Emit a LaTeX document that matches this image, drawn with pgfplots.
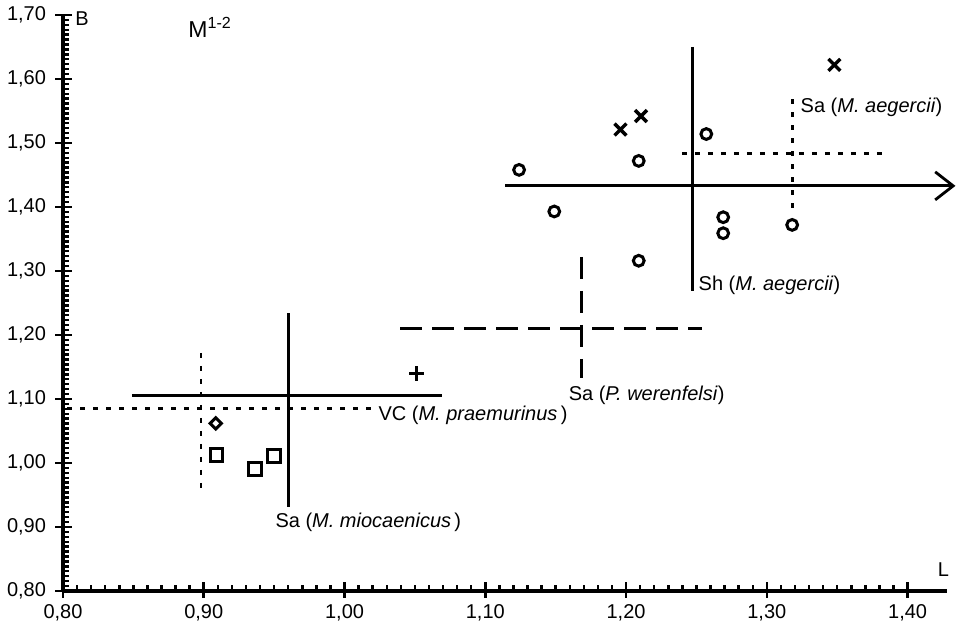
\documentclass[border=0pt]{standalone}
\usepackage{fontspec}
\setmainfont{Liberation Sans}
\usepackage{pgfplots}
\pgfplotsset{compat=1.18}
\usetikzlibrary{arrows.meta}
\begin{document}
\begin{tikzpicture}
\begin{axis}[
  scale only axis, width=442pt, height=288pt,
  xmin=0.80, xmax=1.428, ymin=0.80, ymax=1.70,
  axis lines*=left,
  axis line style={line width=1.8pt},
  clip=false,
  xtick={0.8,0.9,1.0,1.1,1.2,1.3,1.4},
  ytick={0.8,0.9,1.0,1.1,1.2,1.3,1.4,1.5,1.6,1.7},
  minor x tick num=9, minor y tick num=12,
  tick align=inside, major tick length=4.5pt, minor tick length=3.2pt,
  tick style={line width=1.3pt, black},
  minor tick style={line width=1.2pt, black},
  extra x ticks={0.8,0.9,1.0,1.1,1.2,1.3,1.4}, extra x tick labels={},
  extra x tick style={tick align=outside, major tick length=3.5pt},
  extra y ticks={0.8,0.9,1.0,1.1,1.2,1.3,1.4,1.5,1.6,1.7}, extra y tick labels={},
  extra y tick style={tick align=outside, major tick length=4pt},
  ticklabel style={font=\fontsize{10}{11}\selectfont},
  xticklabel style={yshift=-3pt},
  yticklabel style={xshift=-5pt},
  /pgf/number format/use comma,
  /pgf/number format/fixed,
  /pgf/number format/fixed zerofill,
  /pgf/number format/precision=2,
  /pgf/number format/assume math mode=true,
  every node/.append style={font=\fontsize{9.8}{11}\selectfont},
]
% --- reference lines
% Sa (M. miocaenicus) solid cross
\addplot[black, line width=1.4pt] coordinates {(0.849,1.106) (1.069,1.106)};
\addplot[black, line width=1.4pt] coordinates {(0.960,1.234) (0.960,0.932)};
% VC (M. praemurinus) dotted cross
\addplot[black, line width=1.4pt, dash pattern=on 2.5pt off 4pt] coordinates {(0.803,1.085) (1.020,1.085)};
\addplot[black, line width=1.4pt, dash pattern=on 2.5pt off 4pt] coordinates {(0.898,1.172) (0.898,0.953)};
% Sa (P. werenfelsi) dashed cross
\addplot[black, line width=1.4pt, dash pattern=on 11pt off 5pt] coordinates {(1.0395,1.2105) (1.254,1.2105)};
\addplot[black, line width=1.4pt, dash pattern=on 11pt off 6pt] coordinates {(1.1686,1.322) (1.1686,1.133)};
% Sh (M. aegercii) solid cross with arrow
\addplot[black, line width=1.4pt, -{Straight Barb[length=9pt,width=14pt,line width=1.4pt]}] coordinates {(1.114,1.433) (1.434,1.433)};
\addplot[black, line width=1.4pt] coordinates {(1.247,1.650) (1.247,1.268)};
% Sa (M. aegercii) dotted cross
\addplot[black, line width=1.4pt, dash pattern=on 2.5pt off 4pt] coordinates {(1.2397,1.483) (1.3866,1.483)};
\addplot[black, line width=1.4pt, dash pattern=on 2.5pt off 4pt] coordinates {(1.3183,1.568) (1.3183,1.393)};
% --- points
\addplot[only marks, mark=o, mark size=2.7pt, mark options={line width=1.5pt, black}] coordinates {
 (1.124,1.458) (1.149,1.393) (1.209,1.472) (1.209,1.316) (1.257,1.514)
 (1.269,1.384) (1.269,1.359) (1.318,1.372)};
\addplot[only marks, mark=x, mark size=4.2pt, mark options={line width=1.7pt, black}] coordinates {
 (1.196,1.521) (1.2106,1.542) (1.348,1.622)};
\addplot[only marks, mark=square, mark size=3.2pt, mark options={line width=1.5pt, black}] coordinates {
 (0.909,1.0125) (0.9365,0.990) (0.950,1.011)};
\addplot[only marks, mark=square, mark size=2pt, mark options={line width=1.5pt, black, rotate=45}] coordinates {
 (0.9085,1.062)};
\addplot[only marks, mark=+, mark size=3.6pt, mark options={line width=1.6pt, black}] coordinates {
 (1.051,1.140)};
% --- labels
\node[anchor=west, inner sep=0pt] at (axis cs:0.9507,0.9078) {Sa (\textit{M. miocaenicus}\,)};
\node[anchor=west, inner sep=0pt] at (axis cs:1.0239,1.075) {VC (\textit{M. praemurinus}\,)};
\node[anchor=west, inner sep=0pt] at (axis cs:1.159,1.1063) {Sa (\textit{P. werenfelsi})};
\node[anchor=west, inner sep=0pt] at (axis cs:1.2513,1.278) {Sh (\textit{M. aegercii})};
\node[anchor=west, inner sep=0pt] at (axis cs:1.3238,1.556) {Sa (\textit{M. aegercii})};
\node[anchor=base west, inner sep=0pt, font=\fontsize{11.5}{13}\selectfont] at (axis cs:0.8888,1.6656) {M\textsuperscript{1-2}};
\node[anchor=west, inner sep=0pt] at (axis cs:0.8085,1.694) {B};
\node[anchor=west, inner sep=0pt] at (axis cs:1.4212,0.8328) {L};
\coordinate (bbl) at (rel axis cs:-0.07127,-0.07118);
\coordinate (btr) at (rel axis cs:1.01244,1.02604);
\end{axis}
\pgfresetboundingbox
\path[use as bounding box] (bbl) rectangle (btr);
\end{tikzpicture}
\end{document}
